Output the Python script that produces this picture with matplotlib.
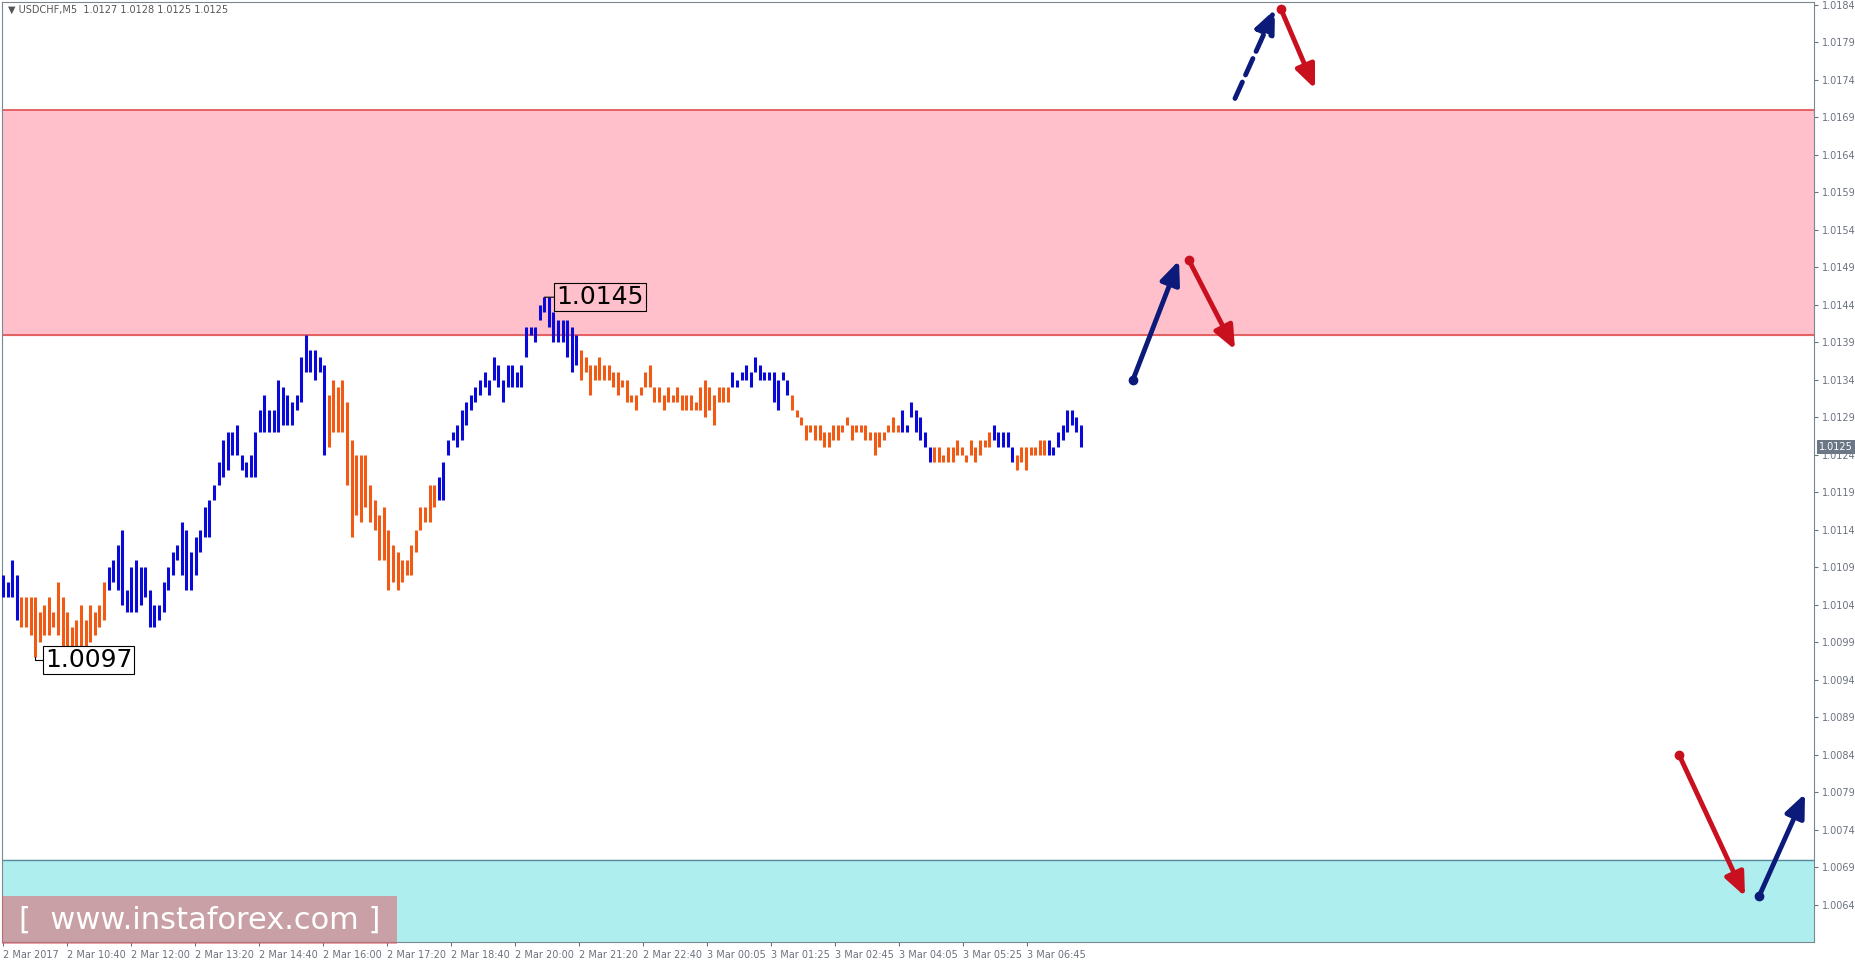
import matplotlib.pyplot as plt
import matplotlib.patches as mpatches
import numpy as np

# bar highs / lows in pips above 1.0000, grouped into colour runs
blue, orange = "#0a0ad8", "#f05a14"
runs = [
    (blue,   [108, 107, 110, 108],
             [105, 105, 105, 102]),
    (orange, [105, 105, 105, 105, 103, 104, 105, 103, 107, 105, 103, 101, 102, 104, 102, 104, 103, 104, 107],
             [101, 101, 100, 97, 99, 100, 100, 101, 100, 98, 97, 97, 98, 98, 98, 99, 100, 101, 102]),
    (blue,   [109, 110, 112, 114, 106, 109, 110, 109, 109, 106, 104, 104, 107, 109, 111, 112, 115, 114, 111, 113,
              114, 117, 118, 120, 123, 126, 127, 127, 128, 124, 123, 124, 127, 130, 132, 130, 130, 134, 133, 132,
              131, 132, 137, 140, 138, 138, 137, 136],
             [106, 107, 106, 104, 103, 103, 103, 104, 105, 101, 101, 102, 103, 106, 108, 110, 108, 106, 106, 108,
              111, 113, 113, 118, 120, 121, 122, 124, 124, 122, 121, 121, 121, 127, 127, 127, 127, 127, 128, 128,
              128, 130, 131, 135, 135, 134, 135, 124]),
    (orange, [132, 134, 133, 134, 131, 126, 124, 124, 124, 120, 118, 116, 117, 114, 112, 111, 110, 110, 112, 114,
              117, 117, 120, 120],
             [125, 127, 127, 127, 120, 113, 116, 115, 117, 115, 114, 110, 110, 106, 107, 106, 107, 108, 108, 111,
              114, 115, 115, 117]),
    (blue,   [121, 123, 126, 127, 128, 130, 131, 132, 133, 134, 135, 134, 137, 136, 134, 136, 136, 135, 136,
              141, 141, 141, 144, 145, 145, 143, 142, 142, 142, 141, 140],
             [118, 118, 124, 126, 125, 126, 128, 130, 131, 132, 133, 132, 134, 133, 131, 133, 133, 133, 133,
              137, 140, 139, 142, 143, 141, 139, 139, 139, 137, 135, 136]),
    (orange, [138, 137, 136, 136, 137, 136, 136, 135, 135, 134, 134, 132, 132, 133, 135, 136, 133, 133, 132, 133,
              132, 133, 132, 132, 132, 131, 133, 134, 133, 132, 133, 133, 133],
             [134, 135, 132, 134, 134, 134, 134, 133, 132, 133, 131, 131, 130, 132, 133, 133, 131, 131, 130, 131,
              131, 131, 130, 130, 130, 130, 130, 129, 130, 128, 131, 131, 131]),
    (blue,   [135, 134, 135, 136, 135, 137, 136, 135, 135, 135, 134, 135, 134],
             [133, 133, 134, 134, 133, 135, 134, 134, 134, 131, 130, 134, 132]),
    (orange, [132, 130, 129, 128, 128, 128, 128, 127, 127, 128, 128, 128, 129, 128, 128, 128, 128, 127, 127, 127,
              127, 128, 129, 128],
             [130, 129, 128, 126, 127, 126, 126, 125, 125, 126, 126, 127, 128, 126, 127, 127, 126, 126, 124, 125,
              126, 127, 127, 127]),
    (blue,   [130, 128, 131, 130, 129, 127, 125],
             [127, 127, 129, 127, 126, 125, 123]),
    (orange, [125, 125, 124, 125, 125, 126, 125, 124, 126, 125, 126, 126, 127],
             [123, 123, 123, 123, 123, 124, 124, 123, 124, 123, 124, 125, 125]),
    (blue,   [128, 127, 127, 127, 125],
             [126, 125, 125, 125, 123]),
    (orange, [124, 125, 125, 125, 125, 126, 126],
             [122, 123, 122, 124, 124, 124, 124]),
    (blue,   [126, 125, 127, 128, 130, 130, 129, 128],
             [124, 124, 125, 126, 127, 128, 127, 125]),
]

time_labels = ["2 Mar 2017", "2 Mar 10:40", "2 Mar 12:00", "2 Mar 13:20", "2 Mar 14:40", "2 Mar 16:00",
               "2 Mar 17:20", "2 Mar 18:40", "2 Mar 20:00", "2 Mar 21:20", "2 Mar 22:40", "3 Mar 00:05",
               "3 Mar 01:25", "3 Mar 02:45", "3 Mar 04:05", "3 Mar 05:25", "3 Mar 06:45"]
price_ticks = [1.0064 + 0.0005 * k for k in range(25)]

# forecast arrows: (x0, y0, x1, y1) in bar units / price
arrows_blue = [(282.5, 1.01340, 294.0, 1.01499), (308.0, 1.01715, 318.0, 1.01834), (439.0, 1.00651, 450.5, 1.00788)]
arrows_red = [(296.5, 1.01499, 308.0, 1.01380), (319.5, 1.01834, 328.0, 1.01728), (419.0, 1.00840, 435.5, 1.00651)]
dashed = [False, True, False]

highs, lows, cols = [], [], []
for c, h, l in runs:
    highs += h
    lows += l
    cols += [c] * len(h)
highs = 1 + np.array(highs) / 10000
lows = 1 + np.array(lows) / 10000
x = np.linspace(0, 269.5, len(highs))

fig = plt.figure(figsize=(18.56, 9.65), dpi=100)
ax = fig.add_axes([2 / 1856, 23 / 965, 1812 / 1856, 940 / 965])
ax.set_xlim(-0.25, 452.75)
ax.set_ylim(1.005903, 1.018436)

ax.axhspan(1.0140, 1.0170, color="#ffc0cb", zorder=0)
ax.axhline(1.0140, color="#e05050", lw=1.2, zorder=1)
ax.axhline(1.0170, color="#e05050", lw=1.2, zorder=1)
ax.axhspan(1.0, 1.0070, color="#afeeee", zorder=0)
ax.axhline(1.0070, color="#5a8ca0", lw=1.0, zorder=1)

ax.vlines(x, lows, highs, colors=cols, lw=2.2, zorder=3)

# extreme labels
i_lo = int(np.argmin(lows))
i_hi = int(np.argmax(highs))
ax.annotate("1.0097", xy=(x[i_lo], lows[i_lo]), xytext=(x[i_lo] + 2.5, 1.00966), fontsize=18,
            va="center", ha="left", bbox=dict(boxstyle="square,pad=0.08", fc="white", ec="black", lw=0.8),
            arrowprops=dict(arrowstyle="-", lw=0.8, color="black", shrinkA=0, shrinkB=0,
                            connectionstyle="angle,angleA=0,angleB=90"), zorder=5)
ax.annotate("1.0145", xy=(x[i_hi], highs[i_hi]), xytext=(x[i_hi] + 3, 1.01450), fontsize=18,
            va="center", ha="left", bbox=dict(boxstyle="square,pad=0.08", fc="#ffc0cb", ec="black", lw=0.8),
            arrowprops=dict(arrowstyle="-", lw=0.8, color="black", shrinkA=0, shrinkB=0), zorder=5)

def arrow(seg, color, dash):
    x0, y0, x1, y1 = seg
    ax.annotate("", xy=(x1, y1), xytext=(x0, y0),
                arrowprops=dict(arrowstyle="-|>,head_length=1.4,head_width=0.6", color=color, lw=3.5,
                                linestyle="--" if dash else "-", shrinkA=0, shrinkB=0), zorder=6)
    if not dash:
        ax.plot(x0, y0, "o", color=color, ms=6, zorder=7)

for s, d in zip(arrows_blue, dashed):
    arrow(s, "#0c1b7a", d)
for s, d in zip(arrows_red, dashed):
    arrow(s, "#c8101e", False)

ax.yaxis.tick_right()
ax.set_yticks(price_ticks)
ax.set_yticklabels([f"{v:.4f}" for v in price_ticks])
ax.set_xticks([16 * k for k in range(len(time_labels))])
ax.set_xticklabels(time_labels, ha="left")
ax.tick_params(axis="both", labelsize=7, colors="#6b7280", length=3, width=0.8, pad=3)
for s in ax.spines.values():
    s.set_color("#7a8690")

# current price marker
ax.text(1.003, 1.0125, "1.0125", transform=ax.get_yaxis_transform(), fontsize=7, color="white",
        va="center", ha="left", bbox=dict(boxstyle="square,pad=0.2", fc="#6b7785", ec="none"), zorder=8)

fig.text(8 / 1856, 955 / 965, "\u25bc USDCHF,M5  1.0127 1.0128 1.0125 1.0125", fontsize=7, color="#555",
         va="center")

# watermark
fig.patches.append(mpatches.Rectangle((2 / 1856, 21 / 965), 395 / 1856, 48 / 965, transform=fig.transFigure,
                                      fc="#e0606a", alpha=0.55, ec="none", zorder=9))
fig.text(200 / 1856, 45 / 965, "[  www.instaforex.com ]", fontsize=22, color="white", ha="center",
         va="center", zorder=10)

fig.savefig("out.png", dpi=100)
